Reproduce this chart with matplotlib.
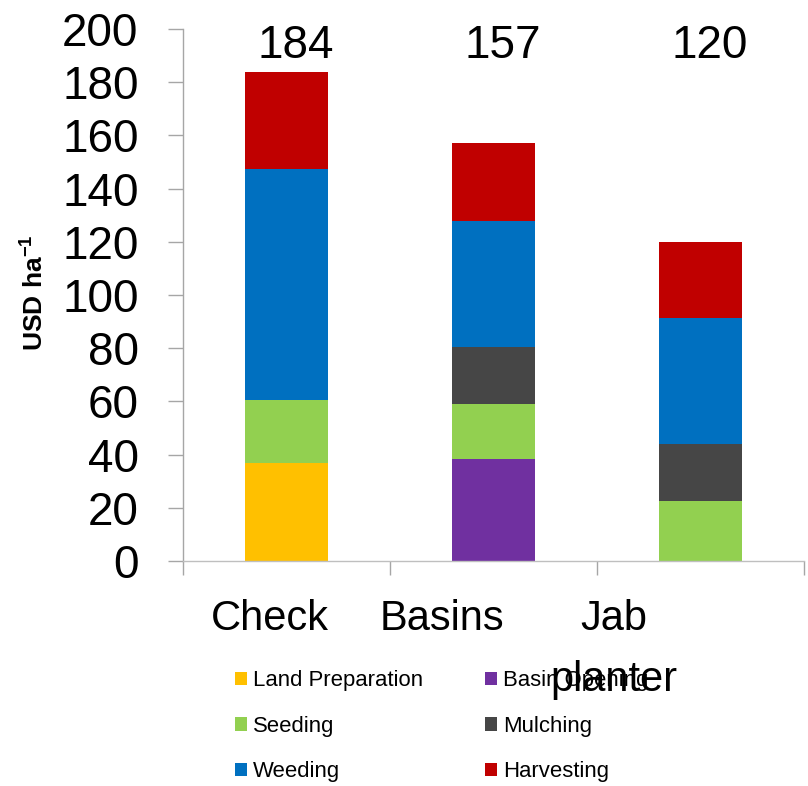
import matplotlib.pyplot as plt
import numpy as np
from matplotlib.patches import Patch
from matplotlib.transforms import ScaledTranslation

plt.rcParams['font.family'] = ['Liberation Sans', 'DejaVu Sans']

# Datos (USD/ha)
categories = ['Check', 'Basins', 'Jab\nplanter']
land_preparation = [37, 0, 0]
basin_opening = [0, 38.3, 0]
seeding = [23.5, 20.6, 22.5]
mulching = [0, 21.7, 21.5]
weeding = [87, 47.2, 47.3]
harvesting = [36.5, 29.5, 28.7]
totals = [184, 157, 120]

series = [
    ('Land Preparation', land_preparation, '#FFC000'),
    ('Basin Opening', basin_opening, '#7030A0'),
    ('Seeding', seeding, '#92D050'),
    ('Mulching', mulching, '#464646'),
    ('Weeding', weeding, '#0070C0'),
    ('Harvesting', harvesting, '#C00000'),
]

fig = plt.figure(figsize=(8.08, 7.86), dpi=100)
ax = fig.add_axes([183 / 808, 1 - 561 / 786, (804 - 183) / 808, (561 - 29) / 786])

x = np.arange(len(categories))
bottom = np.zeros(len(categories))
handles = {}
for name, vals, color in series:
    vals = np.array(vals, dtype=float)
    ax.bar(x, vals, 0.4, bottom=bottom, color=color, linewidth=0)
    bottom += vals
    handles[name] = Patch(facecolor=color, edgecolor='none')

for i, t in enumerate(totals):
    ax.text(x[i] + 0.045, 189, str(t), ha='center', va='baseline', fontsize=33)

ax.set_xlim(-0.5, 2.5)
ax.set_ylim(0, 200)
ax.set_yticks(np.arange(0, 201, 20))
ax.tick_params(axis='y', labelsize=33, length=11, width=1, color='#A6A6A6', pad=21)

ax.set_xticks(x, categories)
ax.set_xticks(np.arange(-0.5, 2.6, 1), minor=True)
ax.tick_params(axis='x', which='major', length=0, labelsize=30, pad=27)
ax.tick_params(axis='x', which='minor', length=10, width=1, color='#A6A6A6')

# desplazamiento de las etiquetas como en el original (px)
shifts = [-17, -52, -87]
for lab, dx in zip(ax.get_xticklabels(), shifts):
    lab.set_transform(lab.get_transform() + ScaledTranslation(dx / 100, 0, fig.dpi_scale_trans))
    lab.set_linespacing(1.7)

for s in ['top', 'right']:
    ax.spines[s].set_visible(False)
ax.spines['left'].set_color('#A6A6A6')
ax.spines['bottom'].set_color('#BFBFBF')
ax.spines['left'].set_linewidth(1)
ax.spines['bottom'].set_linewidth(1)

fig.text(34 / 808, 1 - 293 / 786, 'USD ha$^{\\mathregular{-1}}$', rotation=90, ha='center', va='center',
         fontsize=19, fontweight='bold')

order = ['Land Preparation', 'Seeding', 'Weeding', 'Basin Opening', 'Mulching', 'Harvesting']
leg = fig.legend([handles[n] for n in order], order, ncol=2, frameon=False,
                 loc='upper left', bbox_to_anchor=(235 / 808, 1 - 670 / 786),
                 fontsize=15.9, handlelength=0.55, handleheight=0.55, handletextpad=0.25,
                 columnspacing=2.82, labelspacing=1.12, borderaxespad=0, borderpad=0)
leg.set_zorder(1)

fig.savefig('out.png', dpi=100)
